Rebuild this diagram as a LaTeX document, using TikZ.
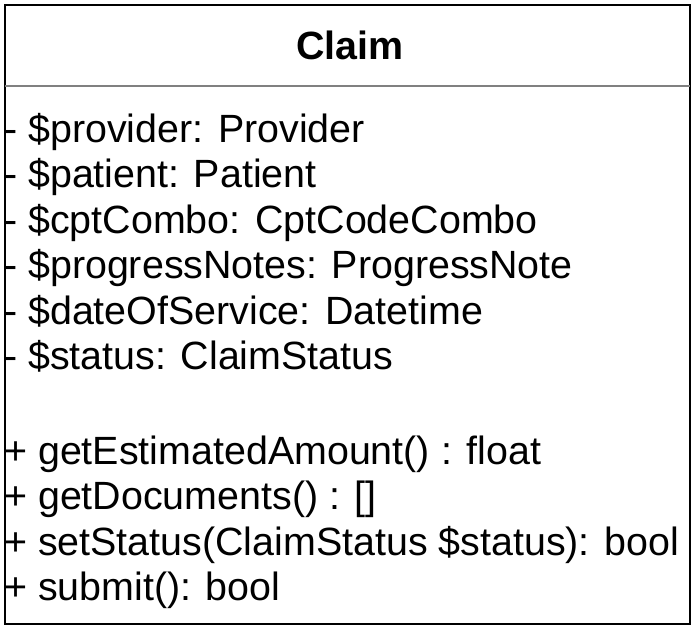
\documentclass[tikz,border=0pt]{standalone}
\usepackage{fontspec}
\setmainfont{Liberation Sans}
\begin{document}
\begin{tikzpicture}[x=1pt,y=-1pt,
  member/.style={anchor=base west,inner sep=0pt,font=\fontsize{39.4}{46}\selectfont},
  title/.style={inner sep=0pt,font=\fontsize{39.4}{46}\selectfont\bfseries}]
\useasboundingbox (0,0) rectangle (700,634);
\draw[line width=2.6pt] (5,5) rectangle (690,624);
\draw[line width=1.2pt,gray] (5,86) -- (690,86);
\node[title] (t) at (350,45) {Claim};
\node[member] (a1) at (4,142) {- \$provider: Provider};
\node[member] (a2) at (4,187.5) {- \$patient: Patient};
\node[member] (a3) at (4,233) {- \$cptCombo: CptCodeCombo};
\node[member] (a4) at (4,278.5) {- \$progressNotes: ProgressNote};
\node[member] (a5) at (4,324) {- \$dateOfService: Datetime};
\node[member] (a6) at (4,369.5) {- \$status: ClaimStatus};
\node[member] (m1) at (4,464) {+ getEstimatedAmount() : float};
\node[member] (m2) at (4,509.5) {+ getDocuments() : []};
\node[member] (m3) at (4,555) {+ setStatus(ClaimStatus \$status): bool};
\node[member] (m4) at (4,600.5) {+ submit(): bool};
\end{tikzpicture}
\end{document}
